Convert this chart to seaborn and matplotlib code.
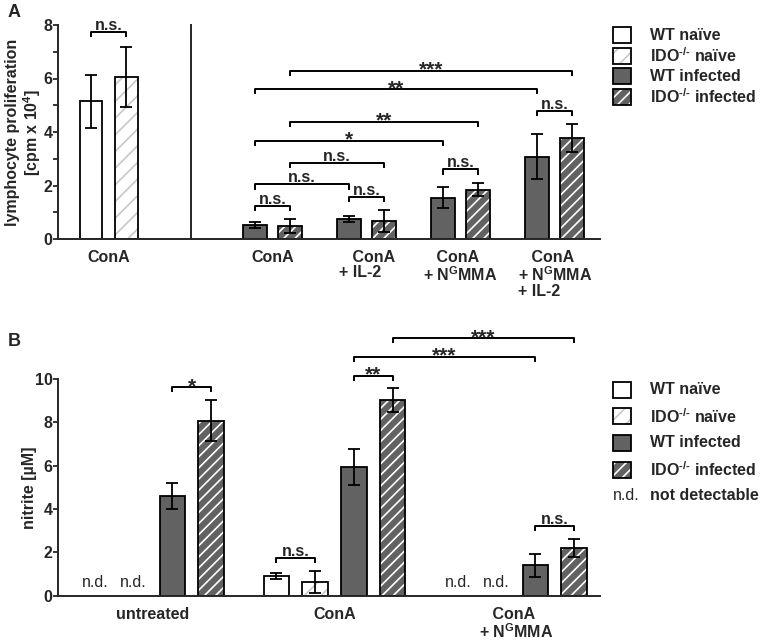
import numpy as np
import pandas as pd
import seaborn as sns
import matplotlib.pyplot as plt
from matplotlib.patches import Rectangle
from matplotlib.ticker import MultipleLocator

# ---- data: panel A (lymphocyte proliferation, cpm x 10^4) ----
a_naive_groups = ["WT naive", "IDO naive"]
a_naive_cats = ["ConA"]
a_naive_mean = [[5.15], [6.07]]
a_naive_err = [[0.99], [1.12]]

a_inf_groups = ["WT infected", "IDO infected"]
a_inf_cats = ["ConA", "   ConA\n+ IL-2", "   ConA\n+ N$^G$MMA", "   ConA\n+ N$^G$MMA\n+ IL-2"]
a_wt_inf_mean = [0.52, 0.75, 1.55, 3.07]
a_wt_inf_err = [0.10, 0.12, 0.40, 0.84]
a_ido_inf_mean = [0.48, 0.68, 1.85, 3.77]
a_ido_inf_err = [0.26, 0.40, 0.25, 0.53]

# ---- data: panel B (nitrite, uM) ----
b_groups = ["WT naive", "IDO naive", "WT infected", "IDO infected"]
b_cats = ["untreated", "ConA", "   ConA\n+ N$^G$MMA"]
nan = np.nan
b_wt_naive_mean = [nan, 0.90, nan]
b_wt_naive_err = [nan, 0.13, nan]
b_ido_naive_mean = [nan, 0.63, nan]
b_ido_naive_err = [nan, 0.50, nan]
b_wt_inf_mean = [4.58, 5.95, 1.40]
b_wt_inf_err = [0.60, 0.82, 0.52]
b_ido_inf_mean = [8.08, 9.02, 2.20]
b_ido_inf_err = [0.95, 0.56, 0.42]

GRAY = "#626262"
colors = {"WT naive": "white", "IDO naive": "white",
          "WT infected": GRAY, "IDO infected": GRAY}
hatches = {"IDO naive": ("//", "#c8c8c8"), "IDO infected": ("///", "white")}
FS = 11.5

sns.set_theme(style="ticks")
plt.rcParams["font.family"] = ["Liberation Sans", "DejaVu Sans"]
plt.rcParams.update({
    "font.size": FS, "font.weight": "bold",
    "mathtext.fontset": "custom", "mathtext.default": "bf",
    "mathtext.bf": "Liberation Sans:bold", "mathtext.rm": "Liberation Sans:bold",
    "hatch.linewidth": 1.2, "axes.linewidth": 1.4,
})

W, H = 762, 643
fig = plt.figure(figsize=(W / 100, H / 100), dpi=100)


def fx(px):
    return px / W


def fy(py):
    return 1 - py / H


def draw_bars(ax, cats, groups, means, errs, width, gap):
    rows = []
    for g, m in zip(groups, means):
        for c, v in zip(cats, m):
            if not np.isnan(v):
                rows.append((c, g, v))
    df = pd.DataFrame(rows, columns=["cond", "group", "value"])
    sns.barplot(data=df, x="cond", y="value", hue="group", order=cats,
                hue_order=groups, palette=colors, width=width, gap=gap,
                saturation=1, errorbar=None, edgecolor="black", linewidth=1.3,
                legend=False, ax=ax)
    n = len(groups)
    step = width / n
    # hatching for the IDO-/- bars
    for p in list(ax.patches):
        xc = p.get_x() + p.get_width() / 2
        k = int(round((xc - round(xc)) / step + (n - 1) / 2))
        g = groups[k]
        if g in hatches:
            h, hc = hatches[g]
            p.set_hatch(h)
            p.set_edgecolor(hc)
            p.set_linewidth(0)
            ax.add_patch(Rectangle(p.get_xy(), p.get_width(), p.get_height(),
                                   fill=False, ec="black", lw=1.3, zorder=p.get_zorder() + 0.1))
    for i, (m, e) in enumerate(zip(means, errs)):
        xs = np.arange(len(cats)) + (i - (n - 1) / 2) * step
        ax.errorbar(xs, m, yerr=e, fmt="none", ecolor="black", elinewidth=1.3,
                    capsize=4.5, capthick=1.3, zorder=4)
    return step


def bracket(ax, x1, x2, y, h, label):
    ax.plot([x1, x1, x2, x2], [y - h, y, y, y - h], color="black", lw=1.4,
            clip_on=False, solid_capstyle="butt")
    star = label.startswith("*")
    ax.annotate(label, ((x1 + x2) / 2, y), xytext=(0, -3.5 if star else 1.5),
                textcoords="offset points", ha="center", va="baseline",
                fontweight="bold", fontsize=15 if star else FS, annotation_clip=False)


def style(ax, ymax, major, minor=None, left=True):
    sns.despine(ax=ax)
    ax.set_ylim(0, ymax)
    ax.set_xlabel("")
    ax.tick_params(axis="x", length=0, pad=8)
    if left:
        ax.yaxis.set_major_locator(MultipleLocator(major))
        if minor:
            ax.yaxis.set_minor_locator(MultipleLocator(minor))
        ax.tick_params(axis="y", which="both", length=3.5, width=1.3, pad=0.5, direction="out")
    else:
        ax.tick_params(axis="y", which="both", left=False, labelleft=False)
        ax.set_ylabel("")
    for lab in ax.get_xticklabels() + ax.get_yticklabels():
        lab.set_fontweight("bold")
        lab.set_fontsize(FS)


# ---------------- panel A ----------------
yA0, yA1 = 239, 25
axA1 = fig.add_axes([fx(58), fy(yA0), fx(191) - fx(58), fy(yA1) - fy(yA0)])
axA2 = fig.add_axes([fx(191), fy(yA0), fx(600) - fx(191), fy(yA1) - fy(yA0)])

sA1 = draw_bars(axA1, a_naive_cats, a_naive_groups, a_naive_mean, a_naive_err, 0.8, 0.37)
axA1.set_xlim(-0.572, 0.927)
style(axA1, 8, 2, 1)
axA1.set_ylabel("lymphocyte proliferation\n[cpm x 10$^4$]", fontweight="bold",
                fontsize=FS, linespacing=1.05)
axA1.yaxis.set_label_coords(-0.115, 0.5)
bracket(axA1, -sA1 / 2, sA1 / 2, 7.73, 0.19, "n.s.")

sA2 = draw_bars(axA2, a_inf_cats, a_inf_groups,
                [a_wt_inf_mean, a_ido_inf_mean], [a_wt_inf_err, a_ido_inf_err], 0.75, 0.32)
axA2.set_xlim(-0.866, 3.48)
style(axA2, 8, 2, left=False)
for lab in axA2.get_xticklabels():
    lab.set_linespacing(1.0)
    lab.set_multialignment("left")
hA = 0.19
w, d = -sA2 / 2, sA2 / 2
bracket(axA2, 0 + w, 0 + d, 1.23, hA, "n.s.")
bracket(axA2, 1 + w, 1 + d, 1.58, hA, "n.s.")
bracket(axA2, 0 + w, 1 + w, 2.04, hA, "n.s.")
bracket(axA2, 2 + w, 2 + d, 2.60, hA, "n.s.")
bracket(axA2, 0 + d, 1 + d, 2.85, hA, "n.s.")
bracket(axA2, 0 + w, 2 + w, 3.68, hA, "*")
bracket(axA2, 0 + d, 2 + d, 4.39, hA, "**")
bracket(axA2, 3 + w, 3 + d, 4.78, hA, "n.s.")
bracket(axA2, 0 + w, 3 + w, 5.60, hA, "**")
bracket(axA2, 0 + d, 3 + d, 6.29, hA, "***")

# ---------------- panel B ----------------
yB0, yB1 = 595.7, 379
axB = fig.add_axes([fx(58.3), fy(yB0), fx(600) - fx(58.3), fy(yB1) - fy(yB0)])
sB = draw_bars(axB, b_cats, b_groups,
               [b_wt_naive_mean, b_ido_naive_mean, b_wt_inf_mean, b_ido_inf_mean],
               [b_wt_naive_err, b_ido_naive_err, b_wt_inf_err, b_ido_inf_err], 0.853, 0.34)
axB.set_xlim(-0.522, 2.463)
style(axB, 10, 2)
axB.set_ylabel("nitrite [µM]", fontweight="bold", fontsize=FS)
axB.yaxis.set_label_coords(-0.04, 0.5)
for lab in axB.get_xticklabels():
    lab.set_linespacing(1.0)
    lab.set_multialignment("left")

offs = (np.arange(4) - 1.5) * sB
all_b = [b_wt_naive_mean, b_ido_naive_mean, b_wt_inf_mean, b_ido_inf_mean]
for i, m in enumerate(all_b):
    for c, v in enumerate(m):
        if np.isnan(v):
            axB.text(c + offs[i], 0.25, "n.d.", ha="center", va="bottom",
                     fontweight="normal", fontsize=FS)

hB = 0.23
bracket(axB, 0 + offs[2], 0 + offs[3], 9.62, hB, "*")
bracket(axB, 1 + offs[0], 1 + offs[1], 1.73, hB, "n.s.")
bracket(axB, 1 + offs[2], 1 + offs[3], 10.15, hB, "**")
bracket(axB, 1 + offs[2], 2 + offs[2], 11.03, hB, "***")
bracket(axB, 1 + offs[3], 2 + offs[3], 11.88, hB, "***")
bracket(axB, 2 + offs[2], 2 + offs[3], 3.23, hB, "n.s.")

# ---------------- legends ----------------
def legend_box(px, py, group):
    h, hc = hatches.get(group, ("", None))
    r = Rectangle((fx(px), fy(py + 16)), fx(18), 16 / H, transform=fig.transFigure,
                  facecolor=colors[group], edgecolor=hc if h else "black",
                  hatch=h or None, lw=0 if h else 1.3)
    fig.add_artist(r)
    if h:
        fig.add_artist(Rectangle((fx(px), fy(py + 16)), fx(18), 16 / H,
                                 transform=fig.transFigure, fill=False,
                                 edgecolor="black", lw=1.3))


legend_labels = {"WT naive": "WT naïve", "IDO naive": r"IDO$^{\text{-/-}}$ naïve",
                 "WT infected": "WT infected", "IDO infected": r"IDO$^{\text{-/-}}$ infected"}

for i, g in enumerate(b_groups):
    yc = 35 + i * 20.7
    legend_box(613, yc - 8, g)
    fig.text(fx(650), fy(yc), legend_labels[g], va="center", ha="left",
             fontweight="bold", fontsize=FS)

for i, g in enumerate(b_groups):
    yc = 389.5 + i * 26.7
    legend_box(613, yc - 8, g)
    fig.text(fx(650), fy(yc), legend_labels[g], va="center", ha="left",
             fontweight="bold", fontsize=FS)
fig.text(fx(613), fy(495), "n.d.", va="center", ha="left", fontweight="normal", fontsize=FS)
fig.text(fx(650), fy(495), "not detectable", va="center", ha="left",
         fontweight="bold", fontsize=FS)

fig.text(fx(8), fy(4), "A", va="top", ha="left", fontweight="bold", fontsize=13)
fig.text(fx(8), fy(333), "B", va="top", ha="left", fontweight="bold", fontsize=13)

fig.savefig("out.png", dpi=100)
